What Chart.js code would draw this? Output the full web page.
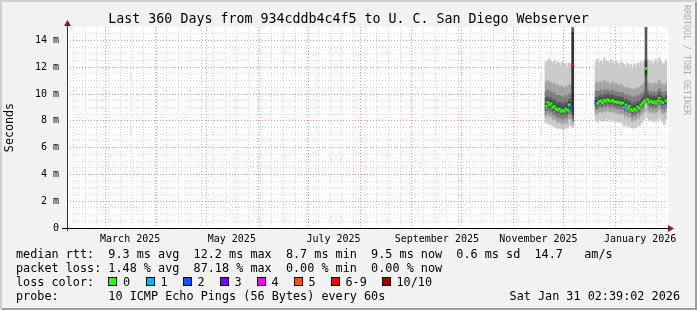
<!DOCTYPE html>
<html><head><meta charset="utf-8">
<script src="https://cdn.jsdelivr.net/npm/chart.js@4.4.1/dist/chart.umd.min.js"></script>
<style>
html,body{margin:0;padding:0;background:#f2f2f2;}
#page{position:relative;width:697px;height:310px;background:#f2f2f2;overflow:hidden;
  box-shadow:inset 2px 2px 0 #cfcfcf, inset -2px -2px 0 #9e9e9e;
  font-family:'DejaVu Sans Mono',monospace;color:#000;}
canvas{position:absolute;left:0;top:0;}
.t{position:absolute;white-space:pre;font-size:11.8px;line-height:14px;}
#title{position:absolute;left:0;top:11px;width:697px;text-align:center;font-size:13.3px;line-height:16px;white-space:pre;}
#wm{position:absolute;left:682px;top:5px;writing-mode:vertical-rl;font-size:8.3px;line-height:10px;color:#ababab;white-space:pre;}
.sq{position:absolute;width:9px;height:9px;box-sizing:border-box;border:1px solid #000;top:277px;}
</style></head>
<body>
<div id="page">
<canvas id="c" width="697" height="310"></canvas>
<div id="title">Last 360 Days from 934cddb4c4f5 to U. C. San Diego Webserver</div>
<div id="wm">RRDTOOL / TOBI OETIKER</div>
<div class="t" style="left:16px;top:247px">median rtt:  9.3 ms avg  12.2 ms max  8.7 ms min  9.5 ms now  0.6 ms sd  14.7   am/s</div>
<div class="t" style="left:16px;top:261px">packet loss: 1.48 % avg  87.18 % max  0.00 % min  0.00 % now</div>
<div class="t" style="left:16px;top:275px">loss color:</div>
<div id="legend"></div>
<div class="t" style="left:16px;top:289px">probe:       10 ICMP Echo Pings (56 Bytes) every 60s</div>
<div class="t" style="right:17px;top:289px">Sat Jan 31 02:39:02 2026</div>
</div>
<script>
// ---------- data ----------
const dates = [
 "2025-11-20","2025-11-21","2025-11-22","2025-11-23","2025-11-24","2025-11-25","2025-11-26","2025-11-27","2025-11-28","2025-11-29","2025-11-30",
 "2025-12-01","2025-12-02","2025-12-03","2025-12-04","2025-12-05","2025-12-06",
 "2025-12-20","2025-12-21","2025-12-22","2025-12-23","2025-12-24","2025-12-25","2025-12-26","2025-12-27","2025-12-28","2025-12-29","2025-12-30","2025-12-31",
 "2026-01-01","2026-01-02","2026-01-03","2026-01-04","2026-01-05","2026-01-06","2026-01-07","2026-01-08","2026-01-09","2026-01-10",
 "2026-01-11","2026-01-12","2026-01-13","2026-01-14","2026-01-15","2026-01-16","2026-01-17","2026-01-18","2026-01-19","2026-01-20",
 "2026-01-21","2026-01-22","2026-01-23","2026-01-24","2026-01-25","2026-01-26","2026-01-27","2026-01-28","2026-01-29","2026-01-30","2026-01-31"
];
// median rtt (ms)
const median = [
 9.1,9.4,9.2,9.3,9.0,9.1,8.9,8.8,8.9,8.7,8.8,8.7,8.9,8.8,9.2,9.0,12.2,
 9.35,9.3,9.45,9.5,9.35,9.55,9.45,9.6,9.5,9.45,9.55,9.4,9.45,9.35,9.4,9.3,9.35,9.0,9.2,8.95,
 9.1,8.85,8.75,8.9,8.8,9.05,8.95,9.2,9.35,9.5,11.9,9.6,9.4,9.5,9.35,9.45,9.3,9.5,9.7,9.45,9.35,9.1,9.5
];
// lost pings out of 10
const loss = [
 0,0,0,0,0,0,0,0,0,0,0,0,0,0,0,2,9,
 2,0,0,0,0,0,0,0,0,0,0,0,0,0,0,0,0,1,0,0,
 0,0,0,0,0,0,0,0,0,0,0,0,0,0,0,0,0,0,0,0,0,1,0
];
// sorted ping rtts (ms), lowest to highest
const ping1 = [
 7.8,7.9,7.7,7.8,7.6,7.6,7.5,7.4,7.5,7.4,7.4,7.35,7.5,7.45,7.7,7.6,7.5,
 8.0,7.9,8.1,8.0,7.95,8.1,8.0,8.15,8.05,7.95,8.1,7.9,8.0,7.9,7.95,7.85,7.9,7.6,7.8,7.55,
 7.7,7.5,7.45,7.55,7.5,7.7,7.6,7.8,7.95,8.1,9.0,8.2,8.0,8.1,7.95,8.05,7.9,8.1,8.3,8.05,7.95,7.7,8.1
];
const ping2 = [
 8.2,8.35,8.15,8.25,8.0,8.05,7.9,7.8,7.85,7.7,7.75,7.7,7.85,7.75,8.1,7.95,7.7,
 8.45,8.4,8.55,8.6,8.45,8.65,8.55,8.7,8.6,8.55,8.65,8.5,8.55,8.45,8.5,8.4,8.45,8.1,8.3,8.05,
 8.2,7.95,7.85,8.0,7.9,8.15,8.05,8.3,8.45,8.6,9.2,8.7,8.5,8.6,8.45,8.55,8.4,8.6,8.8,8.55,8.45,8.2,8.6
];
const ping3 = [
 8.5,8.7,8.5,8.6,8.35,8.4,8.25,8.15,8.2,8.05,8.1,8.05,8.2,8.1,8.45,8.3,7.9,
 8.8,8.75,8.9,8.95,8.8,9.0,8.9,9.05,8.95,8.9,9.0,8.85,8.9,8.8,8.85,8.75,8.8,8.45,8.65,8.4,
 8.55,8.3,8.2,8.35,8.25,8.5,8.4,8.65,8.8,8.95,9.35,9.05,8.85,8.95,8.8,8.9,8.75,8.95,9.15,8.9,8.8,8.55,8.95
];
const ping4 = [
 8.8,9.0,8.85,8.9,8.65,8.75,8.55,8.45,8.55,8.35,8.45,8.35,8.5,8.45,8.8,8.6,8.1,
 9.05,9.0,9.15,9.2,9.05,9.25,9.15,9.3,9.2,9.15,9.25,9.1,9.15,9.05,9.1,9.0,9.05,8.7,8.9,8.65,
 8.8,8.55,8.45,8.6,8.5,8.75,8.65,8.9,9.05,9.2,9.45,9.3,9.1,9.2,9.05,9.15,9.0,9.2,9.4,9.15,9.05,8.8,9.2
];
const ping5 = [
 9.0,9.3,9.1,9.2,8.9,9.0,8.8,8.7,8.8,8.6,8.7,8.6,8.8,8.7,9.1,8.9,8.4,
 9.25,9.2,9.35,9.4,9.25,9.45,9.35,9.5,9.4,9.35,9.45,9.3,9.35,9.25,9.3,9.2,9.25,8.9,9.1,8.85,
 9.0,8.75,8.65,8.8,8.7,8.95,8.85,9.1,9.25,9.4,11.4,9.5,9.3,9.4,9.25,9.35,9.2,9.4,9.6,9.35,9.25,9.0,9.4
];
const ping6 = [
 9.25,9.55,9.35,9.45,9.15,9.25,9.05,8.95,9.05,8.85,8.95,8.85,9.05,8.95,9.35,9.15,14.6,
 9.5,9.45,9.6,9.65,9.5,9.7,9.6,9.75,9.65,9.6,9.7,9.55,9.6,9.5,9.55,9.45,9.5,9.15,9.35,9.1,
 9.25,9.0,8.9,9.05,8.95,9.2,9.1,9.35,9.5,9.65,12.4,9.75,9.55,9.65,9.5,9.6,9.45,9.65,9.85,9.6,9.5,9.25,9.65
];
const ping7 = [
 9.7,9.8,9.6,9.7,9.5,9.6,9.4,9.3,9.4,9.3,9.3,9.2,9.4,9.3,9.6,9.4,14.9,
 9.75,9.7,9.85,9.9,9.75,9.95,9.85,10.0,9.9,9.85,9.95,9.8,9.85,9.75,9.8,9.7,9.75,9.45,9.6,9.4,
 9.5,9.3,9.2,9.35,9.25,9.45,9.4,9.6,9.75,9.9,15.0,10.0,9.8,9.9,9.75,9.85,9.7,9.9,10.1,9.85,9.75,9.55,9.9
];
const ping8 = [
 10.2,10.3,10.1,10.2,10.0,10.1,9.9,9.9,9.9,9.8,9.8,9.7,9.9,9.8,10.0,9.9,15.0,
 10.2,10.2,10.2,10.3,10.1,10.3,10.2,10.3,10.2,10.2,10.3,10.1,10.2,10.1,10.1,10.1,10.1,9.9,10.0,9.9,
 9.9,9.8,9.7,9.8,9.7,9.9,9.8,10.0,10.1,10.2,15.2,10.3,10.1,10.2,10.1,10.2,10.1,10.2,10.4,10.2,10.1,10.0,10.2
];
const ping9 = [
 10.9,11.0,10.8,10.9,10.7,10.8,10.6,10.7,10.5,10.6,10.5,10.4,10.6,10.5,10.7,10.6,15.2,
 10.8,10.9,10.7,10.9,10.6,11.0,10.8,10.9,10.7,10.8,10.9,10.6,10.8,10.7,10.6,10.7,10.6,10.5,10.4,10.5,
 10.4,10.4,10.3,10.4,10.3,10.5,10.4,10.6,10.7,10.8,15.5,10.9,10.7,10.8,10.6,10.8,10.7,10.8,11.0,10.8,10.7,10.6,10.8
];
const ping10 = [
 12.4,12.5,12.6,12.4,12.3,12.5,12.2,12.4,12.3,12.1,12.4,12.2,12.3,12.0,12.3,12.2,15.5,
 12.4,12.6,12.3,12.5,12.2,12.7,12.4,12.5,12.3,12.6,12.4,12.2,12.5,12.3,12.1,12.4,12.3,12.2,12.0,12.3,
 12.1,12.2,11.9,12.2,12.0,12.3,12.1,12.4,12.2,12.5,16.0,12.6,12.3,12.5,12.2,12.4,12.6,12.3,12.7,12.4,12.2,12.3,12.5
];
const lossColors = ['#26ff00','#00b8ff','#0059ff','#7e00ff','#ff00ff','#ff5500','#ff0000','#a10000'];
const lossLabels = ['0','1','2','3','4','5','6-9','10/10'];
const xLabelMonths = ['March 2025','May 2025','July 2025','September 2025','November 2025','January 2026'];
const yLabelEvery = 2;   // ms between labelled lines
const yMinorStep = 0.5;  // ms between minor lines

// ---------- helpers ----------
const DAY = 86400000;
const START = Date.UTC(2025,1,6,2,39,2);
const SPAN = 360;
const toDay = (y,m,d) => (Date.UTC(y,m,d) - START) / DAY;
const xs = dates.map(s => { const [y,m,d] = s.split('-').map(Number); return toDay(y,m-1,d) + 0.5; });
const lossCat = n => n <= 5 ? n : (n < 10 ? 6 : 7);

const monthNames = ['January','February','March','April','May','June','July','August','September','October','November','December'];
const xTicks = [];
const monthDays = new Set();
for (let y=2025, m=2; y<2026 || m<1; ) {
  const v = toDay(y,m,1);
  monthDays.add(Math.round(v*10));
  xTicks.push({value:v, kind:'month'});
  const name = monthNames[m] + ' ' + y;
  if (xLabelMonths.includes(name)) xTicks.push({value:v+15, kind:'label', label:name});
  m++; if (m>11){m=0;y++;}
}
for (let v = toDay(2025,1,10); v < SPAN; v += 7) {
  if (!monthDays.has(Math.round(v*10))) xTicks.push({value:v, kind:'week'});
}
xTicks.sort((a,b)=>a.value-b.value);
const yTicks = [];
for (let v=0; v<=15+1e-9; v+=yMinorStep) yTicks.push({value:Math.round(v*10)/10});

// ---------- datasets ----------
const pings = [ping1,ping2,ping3,ping4,ping5,ping6,ping7,ping8,ping9,ping10];
const datasets = [];
for (let b=0; b<9; b++) {
  const g = 38*Math.abs(4-b) + 50;
  datasets.push({
    type:'bar', order:1, grouped:false, barThickness:2, borderWidth:0,
    backgroundColor:`rgb(${g},${g},${g})`,
    data: xs.map((x,k)=>({x, y:[pings[b][k], pings[b+1][k]]}))
  });
}
const half = 0.075;
datasets.push({
  type:'bar', order:0, grouped:false, barThickness:2, borderWidth:0,
  backgroundColor: ctx => lossColors[lossCat(loss[ctx.dataIndex])],
  data: xs.map((x,k)=>({x, y:[median[k]-half, median[k]+half]}))
});

const leg = document.getElementById('legend');
const sqX = [108,145.5,182.5,219.5,256.5,293.5,330.5,381.5];
lossLabels.forEach((l,i)=>{
  const s = document.createElement('div'); s.className='sq'; s.style.left=sqX[i]+'px'; s.style.background=lossColors[i]; leg.appendChild(s);
  const t = document.createElement('div'); t.className='t'; t.style.left=(sqX[i]+15)+'px'; t.style.top='275px'; t.textContent=l; leg.appendChild(t);
});

const MINOR = 'rgba(150,150,150,0.38)';
const MAJOR = 'rgba(235,70,70,0.6)';

const rrdPlugin = {
  id:'rrd',
  beforeDraw(chart){
    const {ctx, chartArea:a} = chart;
    ctx.save(); ctx.fillStyle='#ffffff'; ctx.fillRect(a.left, a.top, a.right-a.left+1, a.bottom-a.top); ctx.restore();
  },
  afterDraw(chart){
    const {ctx, chartArea:a} = chart;
    ctx.save();
    ctx.lineWidth=1;
    ctx.strokeStyle='#333';
    ctx.beginPath(); ctx.moveTo(a.left+0.5, a.bottom+3); ctx.lineTo(a.left+0.5, a.top-2); ctx.stroke();
    ctx.strokeStyle='#000';
    ctx.beginPath(); ctx.moveTo(a.left-5, a.bottom+0.5); ctx.lineTo(a.right+1, a.bottom+0.5); ctx.stroke();
    ctx.fillStyle='#801f1f';
    ctx.beginPath(); ctx.moveTo(a.left+0.5, a.top-7); ctx.lineTo(a.left+4, a.top-1); ctx.lineTo(a.left-3, a.top-1); ctx.closePath(); ctx.fill();
    ctx.beginPath(); ctx.moveTo(a.right+7, a.bottom+0.5); ctx.lineTo(a.right+1, a.bottom-3); ctx.lineTo(a.right+1, a.bottom+4); ctx.closePath(); ctx.fill();
    ctx.restore();
  }
};

new Chart(document.getElementById('c'), {
  type:'bar',
  data:{datasets},
  options:{
    responsive:false, animation:false, devicePixelRatio:1,
    layout:{padding:{left:0,right:30,top:27,bottom:62}},
    plugins:{legend:{display:false}, tooltip:{enabled:false}},
    scales:{
      x:{
        type:'linear', min:0, max:SPAN, offset:false,
        grid:{offset:false, drawTicks:false, lineWidth:1,
          color: c => c.tick ? (c.tick.kind==='month' ? MAJOR : (c.tick.kind==='week' ? MINOR : 'rgba(0,0,0,0)')) : 'rgba(0,0,0,0)'},
        border:{display:false, dash:[1,2]},
        ticks:{autoSkip:false, maxRotation:0, minRotation:0, padding:5, color:'#000',
          font:{family:'DejaVu Sans Mono', size:10},
          callback:(v,i,t)=> t[i] && t[i].label ? t[i].label : ''},
        afterBuildTicks: s => { s.ticks = xTicks.map(t=>Object.assign({},t)); },
        afterFit: s => { s.height = 20; }
      },
      y:{
        type:'linear', min:0, max:15,
        grid:{drawTicks:false, lineWidth:1,
          color: c => { const v = c.tick ? c.tick.value : 0; if (v<=0 || v>=15) return 'rgba(0,0,0,0)'; return (Math.abs(v % yLabelEvery) < 1e-6) ? MAJOR : MINOR; }},
        border:{display:false, dash:[1,2]},
        ticks:{autoSkip:false, padding:8, color:'#000', font:{family:'DejaVu Sans Mono', size:10},
          callback:(v)=> (Math.abs(v % yLabelEvery) < 1e-6 && v < 15) ? (v===0 ? '0' : v + ' m') : ''},
        afterBuildTicks: s => { s.ticks = yTicks.map(t=>Object.assign({},t)); },
        afterFit: s => { s.width = 67; },
        title:{display:true, text:'Seconds', color:'#000', font:{family:'DejaVu Sans Mono', size:11.7}, padding:{top:3,bottom:0}}
      }
    }
  },
  plugins:[rrdPlugin]
});
</script>
</body></html>
